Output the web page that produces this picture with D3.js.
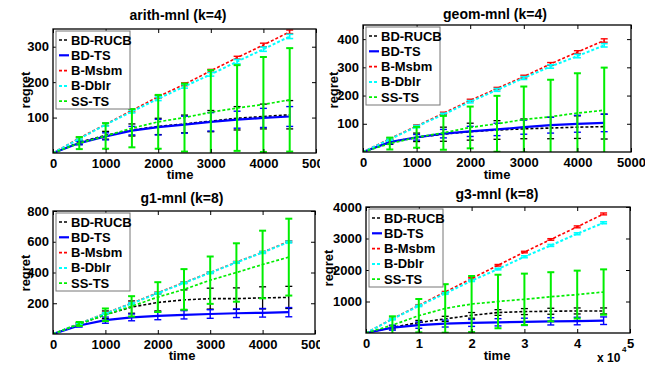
<!DOCTYPE html>
<html><head><meta charset="utf-8">
<script src="https://cdn.jsdelivr.net/npm/d3@7"></script>
<style>
body{margin:0;background:#fff;}
svg text{font-family:"Liberation Sans",Arial,sans-serif;font-weight:bold;}
</style></head>
<body><svg id="c" width="645" height="366"></svg>
<script>
// ---------- data ----------
const seriesNames = ["BD-RUCB","BD-TS","B-Msbm","B-Dblr","SS-TS"];
const times = [0,500,1000,1500,2000,2500,3000,3500,4000,4500];
const timesG3 = [0,5000,10000,15000,20000,25000,30000,35000,40000,45000];
const xTicks = [0,1000,2000,3000,4000,5000];
const xTicksG3 = [0,10000,20000,30000,40000,50000];

const arithTitle = "arith-mnl (k=4)";
const arithRUCB = [0,30,50,65,75,82,90,98,103,108];
const arithRUCBErr = [0,5,11,17,23,25,30,33,35,40];
const arithTS = [0,28,47,63,73,80,88,94,99,103];
const arithTSErr = [0,5,10,12,22,24,26,24,27,28];
const arithMsbm = [0,42,81,120,159,194,232,269,305,342];
const arithMsbmErr = [0,3,4,4,4,4,4,4,5,5];
const arithDblr = [0,40,80,117,153,188,222,258,293,329];
const arithDblrErr = [0,3,4,4,5,5,5,6,6,6];
const arithSSTS = [0,28,48,70,88,100,115,127,137,150];
const arithSSTSErr = [0,17,36,54,76,96,119,121,134,146];
const arithYTicks = [100,200,300];

const geomTitle = "geom-mnl (k=4)";
const geomRUCB = [0,35,52,63,72,78,82,85,88,90];
const geomRUCBErr = [0,8,15,25,30,33,35,38,40,44];
const geomTS = [0,35,52,65,73,80,88,95,100,103];
const geomTSErr = [0,6,10,15,18,22,25,28,30,31];
const geomMsbm = [0,47,92,137,183,225,267,312,354,395];
const geomMsbmErr = [0,3,4,4,4,4,5,5,5,6];
const geomDblr = [0,45,90,133,178,220,262,303,340,378];
const geomDblrErr = [0,3,4,4,4,5,5,6,6,6];
const geomSSTS = [0,30,52,68,87,100,115,125,138,148];
const geomSSTSErr = [0,21,37,60,74,99,117,131,141,151];
const geomYTicks = [100,200,300,400];

const g1Title = "g1-mnl (k=8)";
const g1RUCB = [0,65,125,175,205,222,230,230,235,238];
const g1RUCBErr = [0,8,25,40,55,65,68,70,72,72];
const g1TS = [0,55,90,108,118,125,130,135,138,142];
const g1TSErr = [0,10,20,22,25,27,28,28,28,30];
const g1Msbm = [0,68,135,200,268,335,400,467,532,602];
const g1MsbmErr = [0,4,5,5,5,5,5,5,5,5];
const g1Dblr = [0,67,133,198,265,332,398,465,530,598];
const g1DblrErr = [0,4,5,5,5,5,5,5,6,6];
const g1SSTS = [0,65,125,180,240,290,350,400,452,500];
const g1SSTSErr = [0,13,41,66,97,132,154,190,220,250];
const g1YTicks = [200,400,600,800];

const g3Title = "g3-mnl (k=8)";
const g3RUCB = [0,180,330,450,560,650,680,690,700,700];
const g3RUCBErr = [0,50,70,80,90,90,95,95,95,95];
const g3TS = [0,170,250,300,320,340,355,370,380,390];
const g3TSErr = [0,80,100,110,110,115,115,115,120,120];
const g3Msbm = [0,450,880,1300,1730,2150,2570,2970,3370,3780];
const g3MsbmErr = [0,20,20,20,25,25,25,25,30,30];
const g3Dblr = [0,440,860,1255,1660,2030,2420,2780,3150,3500];
const g3DblrErr = [0,20,20,25,25,25,30,30,30,30];
const g3SSTS = [0,250,550,780,920,1000,1070,1150,1220,1300];
const g3SSTSErr = [0,280,530,770,890,850,815,780,760,720];
const g3YTicks = [1000,2000,3000,4000];

// ---------- styles ----------
const colors = ["#000000","#0000ff","#ff0000","#00ffff","#00ee00"];
const dashes = ["3,2",null,"3,2","3,2","3,2"];
const widths = [1.6,2.2,1.6,2.0,1.7];
const errWidths = [1.3,1.4,1.4,1.6,2.0];

const panels = [
  {title:arithTitle,x:times,xDom:[0,5000],xt:xTicks,xf:d3.format("d"),yDom:[0,350],yt:arithYTicks,
   means:[arithRUCB,arithTS,arithMsbm,arithDblr,arithSSTS],errs:[arithRUCBErr,arithTSErr,arithMsbmErr,arithDblrErr,arithSSTSErr],
   box:{l:53,r:316,t:29,b:153},titleX:178,titleY:20,ylx:25,yly:90,xlx:180,xly:179,clipW:320},
  {title:geomTitle,x:times,xDom:[0,5000],xt:xTicks,xf:d3.format("d"),yDom:[0,450],yt:geomYTicks,
   means:[geomRUCB,geomTS,geomMsbm,geomDblr,geomSSTS],errs:[geomRUCBErr,geomTSErr,geomMsbmErr,geomDblrErr,geomSSTSErr],
   box:{l:363,r:631,t:25,b:152},titleX:495,titleY:19,ylx:333,yly:90,xlx:497,xly:179,clipW:null},
  {title:g1Title,x:times,xDom:[0,5000],xt:xTicks,xf:d3.format("d"),yDom:[0,800],yt:g1YTicks,
   means:[g1RUCB,g1TS,g1Msbm,g1Dblr,g1SSTS],errs:[g1RUCBErr,g1TSErr,g1MsbmErr,g1DblrErr,g1SSTSErr],
   box:{l:53,r:315,t:211,b:334},titleX:182,titleY:203,ylx:25,yly:273,xlx:182,xly:360,clipW:320},
  {title:g3Title,x:timesG3,xDom:[0,50000],xt:xTicksG3,xf:d=>d3.format("d")(d/10000),yDom:[0,4000],yt:g3YTicks,
   means:[g3RUCB,g3TS,g3Msbm,g3Dblr,g3SSTS],errs:[g3RUCBErr,g3TSErr,g3MsbmErr,g3DblrErr,g3SSTSErr],
   box:{l:366,r:630,t:207,b:333},titleX:497,titleY:199,ylx:328,yly:268,xlx:497,xly:360,clipW:null,exp:true}
];

const svg = d3.select("#c");
const defs = svg.append("defs");
defs.append("clipPath").attr("id","leftHalf").append("rect").attr("x",0).attr("y",0).attr("width",320).attr("height",366);

panels.forEach((p,pi)=>{
  const B = p.box;
  const x = d3.scaleLinear().domain(p.xDom).range([B.l,B.r]);
  const y = d3.scaleLinear().domain(p.yDom).range([B.b,B.t]);
  const outer = svg.append("g");
  if (p.clipW) outer.attr("clip-path","url(#leftHalf)");

  defs.append("clipPath").attr("id","pc"+pi).append("rect")
    .attr("x",B.l).attr("y",B.t).attr("width",B.r-B.l).attr("height",B.b-B.t);

  outer.append("rect").attr("x",B.l).attr("y",B.t).attr("width",B.r-B.l).attr("height",B.b-B.t).attr("fill","#fff");

  const plot = outer.append("g").attr("clip-path",`url(#pc${pi})`);
  p.means.forEach((m,si)=>{
    const pts = p.x.map((t,i)=>({t, v:m[i], e:p.errs[si][i]}));
    const line = d3.line().x(d=>x(d.t)).y(d=>y(d.v));
    plot.append("path").datum(pts).attr("d",line).attr("fill","none")
      .attr("stroke",colors[si]).attr("stroke-width",widths[si])
      .attr("stroke-dasharray",dashes[si]);
    const eb = plot.append("g").attr("stroke",colors[si]).attr("stroke-width",errWidths[si]);
    pts.filter(d=>d.t>0).forEach(d=>{
      const cx = x(d.t), y1 = y(d.v-d.e), y2 = y(d.v+d.e);
      eb.append("line").attr("x1",cx).attr("x2",cx).attr("y1",y1).attr("y2",y2);
      eb.append("line").attr("x1",cx-3.5).attr("x2",cx+3.5).attr("y1",y1).attr("y2",y1);
      eb.append("line").attr("x1",cx-3.5).attr("x2",cx+3.5).attr("y1",y2).attr("y2",y2);
    });
  });

  const axB = d3.axisBottom(x).tickValues(p.xt).tickFormat(p.xf).tickSizeInner(-4).tickSizeOuter(0).tickPadding(6);
  const axT = d3.axisTop(x).tickValues(p.xt).tickFormat("").tickSizeInner(-4).tickSizeOuter(0);
  const axL = d3.axisLeft(y).tickValues(p.yt).tickFormat(d3.format("d")).tickSizeInner(-4).tickSizeOuter(0).tickPadding(4);
  const axR = d3.axisRight(y).tickValues(p.yt).tickFormat("").tickSizeInner(-4).tickSizeOuter(0);
  outer.append("g").attr("transform",`translate(0,${B.b})`).call(axB);
  outer.append("g").attr("transform",`translate(0,${B.t})`).call(axT);
  outer.append("g").attr("transform",`translate(${B.l},0)`).call(axL);
  outer.append("g").attr("transform",`translate(${B.r},0)`).call(axR);
  outer.selectAll(".domain").remove();
  outer.selectAll(".tick line").attr("stroke","#000").attr("stroke-width",1);
  outer.selectAll(".tick text").attr("font-size",13).attr("fill","#000")
    .attr("font-family","Liberation Sans, Arial, sans-serif").attr("font-weight","bold");
  outer.append("rect").attr("x",B.l).attr("y",B.t).attr("width",B.r-B.l).attr("height",B.b-B.t)
    .attr("fill","none").attr("stroke","#000").attr("stroke-width",1.3);

  const lx = B.l+3, ly = B.t+2;
  const lg = outer.append("g");
  lg.append("rect").attr("x",lx).attr("y",ly).attr("width",74).attr("height",78)
    .attr("fill","#fff").attr("stroke","#777").attr("stroke-width",1);
  seriesNames.forEach((n,si)=>{
    const yy = ly+9+si*15.3;
    lg.append("line").attr("x1",lx+3).attr("x2",lx+13).attr("y1",yy).attr("y2",yy)
      .attr("stroke",colors[si]).attr("stroke-width",widths[si]).attr("stroke-dasharray",dashes[si]);
    lg.append("text").attr("x",lx+15).attr("y",yy+4.5).attr("font-size",13).text(n);
  });

  outer.append("text").attr("x",p.titleX).attr("y",p.titleY).attr("text-anchor","middle").attr("font-size",14).text(p.title);
  outer.append("text").attr("x",p.xlx).attr("y",p.xly).attr("text-anchor","middle").attr("font-size",13).text("time");
  outer.append("text").attr("transform",`translate(${p.ylx},${p.yly}) rotate(-90)`).attr("dy","0.35em")
    .attr("text-anchor","middle").attr("font-size",13).text("regret");
  if (p.exp){
    outer.append("text").attr("x",597).attr("y",362).attr("font-size",12).text("x 10");
    outer.append("text").attr("x",622).attr("y",352).attr("font-size",8).text("4");
  }
});
</script></body></html>
